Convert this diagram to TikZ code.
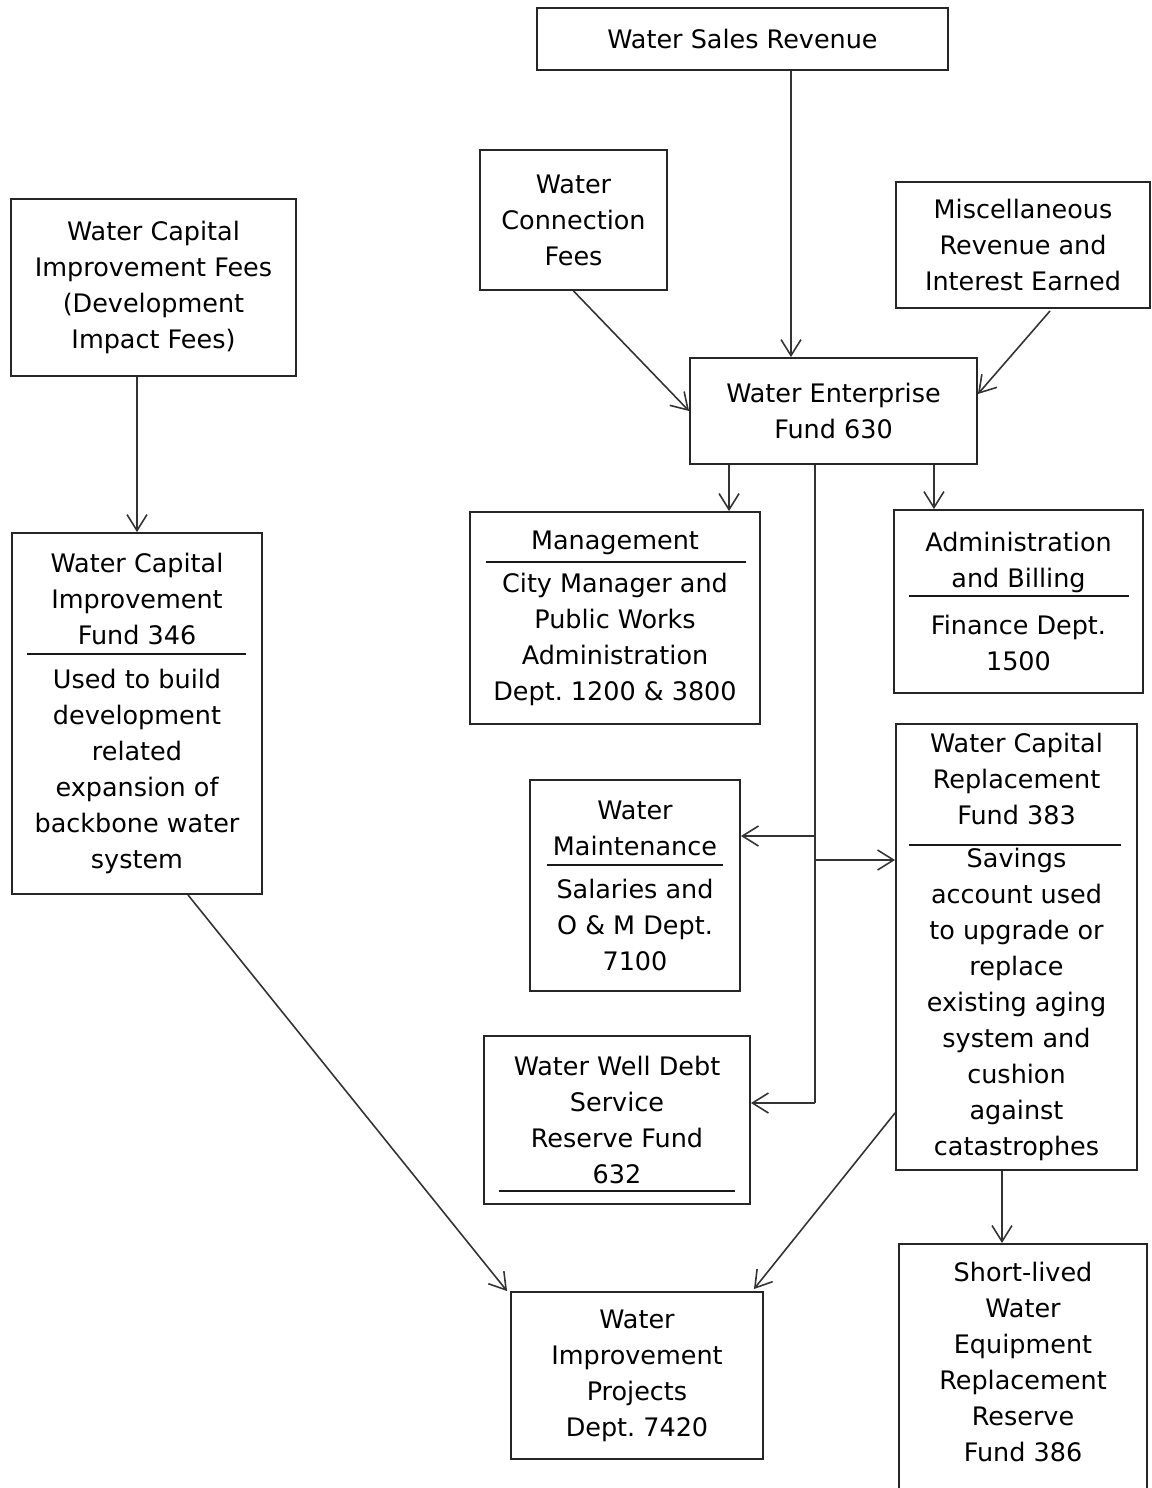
\documentclass[tikz,border=0pt]{standalone}
\usepackage{fontspec}
\setmainfont{DejaVu Sans}
\frenchspacing
\usetikzlibrary{arrows.meta}

\tikzset{
  box/.style={draw=black!85, line width=1.1pt, inner sep=0pt, align=center,
    font=\fontsize{14.5}{20.5}\selectfont},
  sep/.style={line width=1.6pt, draw=black!90},
  flow/.style={->, line width=0.9pt, draw=black!80},
}

\begin{document}
\begin{tikzpicture}[x=0.02cm,y=-0.02cm,>={Straight Barb[length=3.2mm,width=4mm]}]
\useasboundingbox (0,0) rectangle (1152,1488);
\clip (0,0) rectangle (1152,1488);

% sources
\node[box, minimum width=8.22cm, minimum height=1.24cm] (sales) at (742.5,39) {Water Sales Revenue};
\node[box, minimum width=3.74cm, minimum height=2.8cm]  (conn)  at (573.5,220) {Water\\Connection\\Fees};
\node[box, minimum width=5.08cm, minimum height=2.52cm] (misc)  at (1023,245) {Miscellaneous\\Revenue and\\Interest Earned};
\node[box, minimum width=5.7cm, minimum height=3.54cm]  (cfees) at (153.5,287.5) {Water Capital\\Improvement Fees\\(Development\\Impact Fees)};

% enterprise fund
\node[box, minimum width=5.74cm, minimum height=2.12cm] (ent) at (833.5,411) {Water Enterprise\\Fund 630};

% uses
\node[box, minimum width=5.8cm, minimum height=4.24cm]  (mgmt)  at (615,618) {Management\\[4pt]City Manager and\\Public Works\\Administration\\Dept. 1200 \& 3800};
\node[box, minimum width=4.98cm, minimum height=3.66cm] (admin) at (1018.5,601.5) {Administration\\and Billing\\[6pt]Finance Dept.\\1500};
\node[box, minimum width=5cm, minimum height=7.22cm]    (cif)   at (137,713.5) {Water Capital\\Improvement\\Fund 346\\[4pt]Used to build\\development\\related\\expansion of\\backbone water\\system};
\node[box, minimum width=4.2cm, minimum height=4.22cm]  (maint) at (635,885.5) {Water\\Maintenance\\[4pt]Salaries and\\O \& M Dept.\\7100};
\node[box, minimum width=4.82cm, minimum height=8.92cm] (crf)   at (1016.5,947) {Water Capital\\Replacement\\Fund 383\\[4pt]Savings\\account used\\to upgrade or\\replace\\existing aging\\system and\\cushion\\against\\catastrophes};
\node[box, minimum width=5.32cm, minimum height=3.36cm] (debt)  at (617,1120) {Water Well Debt\\Service\\Reserve Fund\\632};
\node[box, minimum width=5.04cm, minimum height=3.34cm] (wip)   at (637,1375.5) {Water\\Improvement\\Projects\\Dept. 7420};
\node[box, minimum width=4.96cm, minimum height=6cm, anchor=north] (slw) at (1023,1243) {};
\node[box, draw=none] (slwtxt) at (1023,1362) {Short-lived\\Water\\Equipment\\Replacement\\Reserve\\Fund 386};

% rules under the headings
\draw[sep] ([shift={(17,51)}]mgmt.north west)   -- ([shift={(-15,51)}]mgmt.north east);
\draw[sep] ([shift={(16,87)}]admin.north west)  -- ([shift={(-15,87)}]admin.north east);
\draw[sep] ([shift={(16,122)}]cif.north west)   -- ([shift={(-17,122)}]cif.north east);
\draw[sep] ([shift={(18,86)}]maint.north west)  -- ([shift={(-18,86)}]maint.north east);
\draw[sep] ([shift={(14,122)}]crf.north west)   -- ([shift={(-17,122)}]crf.north east);
\draw[sep] ([shift={(16,156)}]debt.north west)  -- ([shift={(-16,156)}]debt.north east);

% into the enterprise fund
\draw[flow] ([shift={(48.5,0)}]sales.south) -- ([shift={(48.5,0)}]sales.south |- ent.north);
\draw[flow] (conn.south) -- (ent.west);
\draw[flow] ([shift={(27,2)}]misc.south) -- ([shift={(0,-17)}]ent.east);
\draw[flow] (cfees.south -| cif.north) -- (cif.north);

% out of the enterprise fund
\draw[flow] ([shift={(40,0)}]ent.south west) -- ([shift={(40,0)}]ent.south west |- mgmt.north);
\draw[flow] ([shift={(-44,0)}]ent.south east) -- ([shift={(-44,0)}]ent.south east |- admin.north);

\coordinate (tr) at ([shift={(-18.5,0)}]ent.south);
\coordinate (tm) at (815,836);
\coordinate (tc) at (815,860);
\coordinate (tb) at (815,1103);
\draw[line width=0.9pt, draw=black!80] (tr) -- (tb);
\draw[flow] (tm) -- (tm -| maint.east);
\draw[flow] (tc) -- (tc -| crf.west);
\draw[flow] (tb) -- (tb -| debt.east);

% to projects and reserves
\draw[flow] ([shift={(51,0)}]cif.south) -- ([shift={(-3,0)}]wip.north west);
\draw[flow] ([shift={(0,-58)}]crf.south west) -- ([shift={(-10,-2)}]wip.north east);
\draw[flow] ([shift={(-14.5,0)}]crf.south) -- ([shift={(-14.5,0)}]crf.south |- slw.north);

\end{tikzpicture}
\end{document}
